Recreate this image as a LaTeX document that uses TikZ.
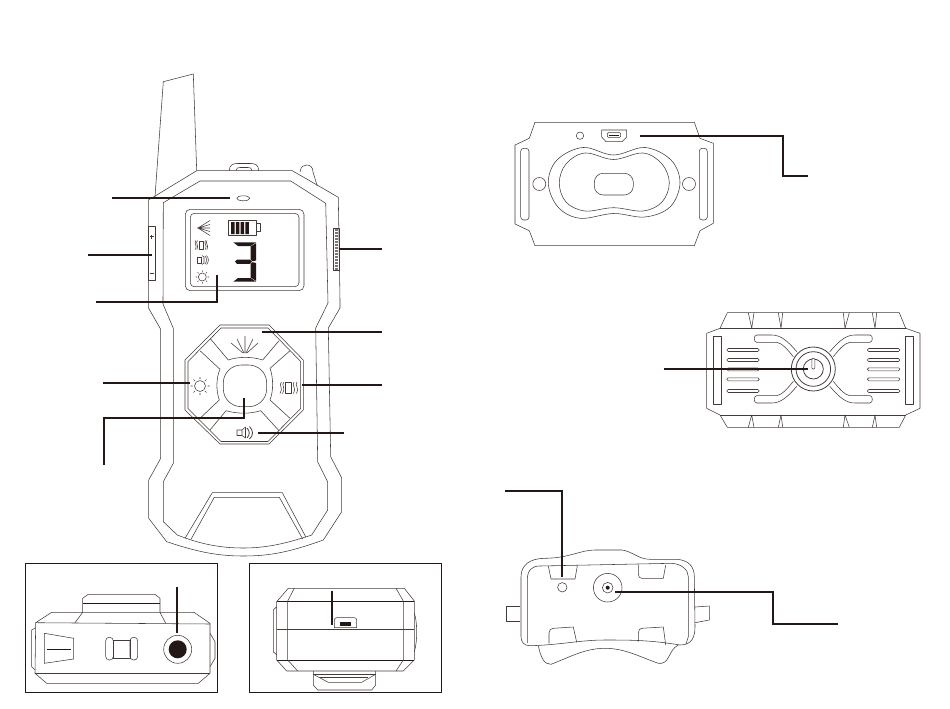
\documentclass[tikz,border=0pt]{standalone}
\usepackage{tikz}
\usetikzlibrary{calc}
\definecolor{inkline}{HTML}{231815}
\tikzset{
  part/.style={draw=inkline!85,line width=0.55pt,line join=round},
  boldpart/.style={draw=inkline,line width=1pt},
  leader/.style={draw=inkline,line width=1.7pt,line join=miter},
  frame/.style={draw=inkline,line width=1pt},
  solid part/.style={fill=inkline,draw=none}
}
\begin{document}
\begin{tikzpicture}[x=1pt,y=-1pt]
\useasboundingbox (0,0) rectangle (950,709);
% handset front
\draw[part] (155,196.7) -- (163.3,81.7) -- (193.3,74) -- (196.7,170.7);
\draw[part] (148.3,200) -- (154,196.7) -- (196.7,170.7) -- (292.3,170.7) -- (338.3,197.3) -- (340,300) -- (340,308) -- (328.3,328) -- (330.7,456.7) -- (341.7,478) -- (341.7,511.7) -- (323.3,540) .. controls (290,552) and (270,556) .. (243.3,556) .. controls (215,556) and (195,551) .. (166.7,541.7) -- (148.7,518.3) -- (148.7,480) -- (160.7,458.3) -- (160.7,329.3) -- (148.7,308.3) -- cycle;
\draw[part] (163.3,202.7) -- (200,181) -- (290.7,181) -- (325.7,203.3) -- (328,303) -- (315.7,328) -- (317.7,462) -- (327.7,482) -- (327.7,510) -- (311.7,535) .. controls (285,544) and (265,548) .. (243.3,548) .. controls (220,548) and (200,544) .. (177.3,535) -- (163.3,521.7) -- (163.3,481.7) -- (173.3,463.3) -- (173.3,328.3) -- (163,304) -- cycle;
\draw[part] (185,538.3) -- (212.3,492.7) -- (282.3,492.7) -- (306,537.3);
\draw[part] (191,539.3) -- (214.3,497.3) -- (279.3,497.3) -- (302.7,539);
\draw[part] (229.3,170.7) .. controls (229.3,165) and (233,163.5) .. (237,163.5) -- (251,163.5) .. controls (255,163.5) and (258.7,165) .. (258.7,170.7);
\draw[part] (236,170.7) .. controls (236,168) and (238,167.5) .. (240,167.5) -- (248,167.5) .. controls (250,167.5) and (252,168) .. (252,170.7);
\draw[part] (300,171.7) .. controls (301,166) and (304,165) .. (306.7,165) .. controls (310,165) and (313,167) .. (313,172) -- (317.3,186);
\draw[part] (243.3,198.3) ellipse (6.5 and 2.5);
% side keys
\draw[part] (148.3,226) rectangle (155.7,280.7);
\draw[part] (149.5,236.7) -- (154,236.7) (151.7,234.5) -- (151.7,239);
\draw[part] (149.5,273) -- (154,273);
\draw[part] (333.3,228.3) rectangle (339.3,270.7);
\draw[part,draw=inkline!60,dash pattern=on 1.5pt off 1.5pt,line width=3pt] (336.3,229) -- (336.3,270);
% display
\draw[part,rounded corners=5pt] (185.3,209.3) rectangle (304,290.7);
\draw[part,rounded corners=4pt] (190.3,213.3) rectangle (299,286.7);
\draw[part] (210,220.5) -- (198,228) -- (210,235.5) (197,228) -- (210,228) (198,228) -- (210,224.5) (198,228) -- (210,231.5);
\draw[part,line width=0.8pt] (228.3,220) rectangle (256.7,235.7);
\draw[part] (256.7,223.3) rectangle (260,231.7);
\fill[solid part] (231,222) rectangle (234.5,234) (235.8,222) rectangle (239.3,234) (240.6,222) rectangle (244.1,234) (245.4,222) rectangle (248.9,234);
% digit
\fill[solid part] (233.3,242.3) -- (256.2,242.3) -- (250.5,246) -- (238,246) -- cycle;
\fill[solid part] (256.2,243) -- (256.2,260.5) -- (252.5,261.2) -- (250.5,259.5) -- (250.5,246.5) -- cycle;
\fill[solid part] (237,259.5) -- (250,259.5) -- (252,261.7) -- (250,263.8) -- (237,263.8) -- (235,261.7) -- cycle;
\fill[solid part] (256.2,263) -- (256.2,281) -- (250.5,277.5) -- (250.5,264) -- (252.5,262.2) -- cycle;
\fill[solid part] (233.3,281.7) -- (256.2,281.7) -- (250.5,278) -- (238,278) -- cycle;
% display icons
\draw[part,line width=0.8pt] (199.5,241) rectangle (203.5,249);
\draw[part] (197.5,240.5) .. controls (195,243) and (199,245) .. (197,249.5) (196,240.5) .. controls (193.5,243) and (197.5,245) .. (195.5,249.5);
\draw[part] (205.5,240.5) .. controls (203.5,243) and (207.5,245) .. (205.5,249.5) (207,240.5) .. controls (205,243) and (209,245) .. (207,249.5);
\draw[part,line width=0.8pt] (197.5,257) rectangle (201,263);
\draw[part] (202,255.5) -- (204,257) -- (204,263) -- (202,264.5) (205,256) .. controls (207,258) and (207,262) .. (205,264) (206.5,255.5) .. controls (209,258) and (209,262) .. (206.5,264.5);
\draw[part] (202.3,277) circle (4);
\draw[part] (202.3,270.3) -- (202.3,271.8) (202.3,282.2) -- (202.3,283.7) (195.6,277) -- (197.1,277) (207.5,277) -- (209,277) (197.6,272.3) -- (198.6,273.3) (206,280.7) -- (207,281.7) (197.6,281.7) -- (198.6,280.7) (206,273.3) -- (207,272.3);
% keypad
\draw[part] (220,325) -- (269,325) -- (303.3,360) -- (303.3,410) -- (269,444) -- (220,444) -- (185,410) -- (185,360) -- cycle;
\draw[part] (221,328) -- (268,328) -- (300.7,361.5) -- (300.7,408.5) -- (268,441.5) -- (221,441.5) -- (188,408.5) -- (188,361.5) -- cycle;
\draw[part] (210,338.3) -- (228.3,360) .. controls (238,356.5) and (252,356.5) .. (262.7,360) -- (279,340.7);
\draw[part] (200,350.7) -- (220,369.3) .. controls (216,378) and (216,391) .. (219.3,400) -- (200,418.3);
\draw[part] (290,350.7) -- (270,368.3) .. controls (273.5,378) and (273.5,391) .. (270,400) -- (290,418.3);
\draw[part] (210,430) -- (226,410.7) .. controls (238,414) and (250,414) .. (260.7,410.7) -- (279,430.7);
\draw[part,rounded corners=18pt] (223.3,365) rectangle (266.7,406.7);
% keypad icons
\draw[part] (245,336) -- (245,353) (237,339) -- (244,353) (253,339) -- (246,353) (231,343) -- (243,353) (258,343) -- (247,353);
\draw[part] (200,386) circle (5.5);
\draw[part] (200,377) -- (200,379) (200,393) -- (200,395) (190.5,386) -- (192.5,386) (207.5,386) -- (209.5,386) (193.5,379.5) -- (195,381) (205,391) -- (206.5,392.5) (193.5,392.5) -- (195,391) (205,381) -- (206.5,379.5);
\draw[part,line width=0.8pt] (285.7,382.3) rectangle (291.7,393.3);
\draw[part] (281.5,382) .. controls (278,385) and (284,388) .. (280,393.5) (284,382) .. controls (280.5,385) and (286.5,388) .. (282.5,393.5);
\draw[part] (294,382) .. controls (291,385) and (297,388) .. (293.5,393.5) (297,382) .. controls (294,385) and (300,388) .. (296.5,393.5);
\draw[part] (242,430) -- (237,430) -- (237,435.5) -- (242,435.5) -- cycle (242,430) -- (245.5,427) -- (245.5,438) -- (242,435.5);
\draw[part,line width=0.8pt] (247,428) .. controls (250,431) and (250,435) .. (247,438) (249.5,426.5) .. controls (253.5,430) and (253.5,436) .. (249.5,439);
% side view panel left
\draw[frame] (25,563.3) rectangle (217.3,692.3);
\draw[part] (35.7,622.7) -- (51.7,612.3) -- (194,612.3) -- (210,623.3) -- (210,673.3) -- (198.3,683.3) -- (46.7,683.3) -- (35,673.3) -- cycle;
\draw[part] (35.7,622.7) -- (210,624);
\draw[part] (35,673.3) -- (210,673.3);
\draw[part] (75,622.7) -- (82.7,612.3) -- (82.7,598.3) -- (88.3,594.3) -- (155,594.3) -- (160,598.3) -- (160,612.3) -- (165.7,623.3);
\draw[boldpart] (82.7,603.3) -- (160,603.3);
\draw[part] (35.7,627.7) -- (31.7,630) -- (31.7,666.7) -- (35,670);
\draw[part] (210,633.3) -- (215,641.7) -- (215,658.3) -- (210,666.7);
\draw[part] (44.3,633.3) -- (73.7,638.3) -- (73.7,659) -- (44.3,663.3) -- cycle;
\draw[boldpart,line width=0.7pt] (47,649.3) -- (71,649.3);
\draw[part,line width=0.8pt] (113.3,640.7) rectangle (130,658.3);
\draw[part,rounded corners=3.5pt] (105.7,637.3) rectangle (113.3,660);
\draw[part,rounded corners=3.5pt] (130,637.3) rectangle (137.7,660);
\draw[part] (177.7,649.3) circle (14);
\fill[solid part] (177.7,649.3) circle (9);
% side view panel right
\draw[frame] (249.3,563.3) rectangle (441.7,692.3);
\draw[part] (276.7,601.7) -- (288.3,588.3) -- (404.3,588.3) -- (414.3,601) -- (414.3,660) -- (403.3,671) -- (286.7,671) -- (276.7,660) -- cycle;
\draw[boldpart,line width=0.7pt] (276.7,601.7) -- (414.3,601.7) (276.7,660) -- (414.3,660);
\draw[part] (276.7,629.3) -- (414.3,629.3);
\draw[part] (294.3,588.3) -- (287.7,601) -- (287.7,660) -- (297.7,671);
\draw[part] (396,588.3) -- (403.3,601) -- (403.3,660) -- (396,671);
\draw[part] (276.7,606.7) -- (273.3,610) -- (273.3,651.7) -- (276.7,655);
\draw[part] (414.3,613.3) .. controls (417,620) and (418,640) .. (414.3,651.7);
\draw[part] (313.3,671) -- (313.3,685) -- (317.7,690) -- (371.7,690) -- (375.7,685) -- (375.7,671);
\draw[part] (313.3,674.3) -- (375.7,674.3);
\draw[part] (313.3,674.3) -- (328.3,682.3) -- (361.7,682.3) -- (375.7,674.3);
\draw[part] (320,677.7) -- (368.3,677.7);
\draw[part] (334.3,627.7) -- (334.3,620) .. controls (334.3,618.5) and (335.5,617.7) .. (337,617.7) -- (354,617.7) .. controls (355.5,617.7) and (356.7,618.5) .. (356.7,620) -- (356.7,627.7) -- cycle;
\fill[solid part] (340,622.3) rectangle (351,626);
% collar back
\draw[part] (535,122.3) -- (694.3,122.3) -- (700,138.3) -- (713.3,143.3) -- (713.3,223.3) -- (700,230.7) -- (694.3,245.7) -- (535,245.7) -- (529.3,230.7) -- (515,224) -- (515,145) -- (529.3,138.3) -- cycle;
\draw[part,rounded corners=3pt] (520.7,148.3) rectangle (529,220);
\draw[part,rounded corners=3pt] (699.3,148.3) rectangle (707.3,220);
\draw[part] (539.3,184) circle (6.5);
\draw[part] (689,184) circle (6.5);
\draw[part] (580,135.7) circle (3.7);
\draw[part] (601.7,130) -- (626.7,130) -- (626.7,137) -- (622,141.7) -- (606,141.7) -- (601.7,137) -- cycle;
\draw[part,rounded corners=1pt] (607.3,132.7) rectangle (620.7,137.3);
\fill[solid part] (609,134.5) rectangle (619,136.2);
\draw[part] plot[smooth cycle,tension=0.6] coordinates {(548.3,183) (557,160) (583,147.5) (613.5,155) (645,147.5) (671,160) (680,183) (670,207) (645,217) (613.5,213.5) (580,218.3) (558,207)};
\draw[part] plot[smooth cycle,tension=0.6] coordinates {(559.3,183) (566,164) (585,153) (613.5,159.5) (643,153) (662,164) (669.3,183) (662,202) (643,211) (613.5,207.7) (585,211) (566,202)};
\draw[part,rounded corners=9pt] (594.3,173.3) rectangle (633.3,195);
% collar top
\draw[part] (706.7,333.3) -- (720,328.3) -- (727.3,312.7) -- (899.3,312.7) -- (905.7,328.3) -- (920,333.3) -- (920,408.3) -- (905.7,415) -- (899.3,427.3) -- (727.3,427.3) -- (720,415) -- (706.7,408.3) -- cycle;
\draw[part] (720,328.3) -- (905.7,328.3);
\draw[part] (720,415) -- (905.7,415);
\draw[part] (748.3,312.7) -- (751.7,328.3) -- (754,312.7);
\draw[part] (778.3,312.7) -- (781,328.3) -- (782.7,312.7);
\draw[part] (843.3,312.7) -- (845,328.3) -- (849.3,312.7);
\draw[part] (872.3,312.7) -- (875,328.3) -- (876.7,312.7);
\draw[part] (748.3,427.3) -- (751.7,415) -- (754,427.3);
\draw[part] (778.3,427.3) -- (781,415) -- (782.7,427.3);
\draw[part] (843.3,427.3) -- (845,415) -- (849.3,427.3);
\draw[part] (872.3,427.3) -- (875,415) -- (876.7,427.3);
\draw[part,line width=0.9pt] (713.3,336) rectangle (721.7,404.3);
\draw[part,line width=0.9pt] (905,336) rectangle (913.3,404.3);
\draw[part,rounded corners=1.5pt] (726.7,348.5) rectangle (759.3,351.5);
\draw[part,rounded corners=1.5pt] (726.7,358.5) rectangle (759.3,361.5);
\draw[part,rounded corners=1.5pt] (726.7,367.8) rectangle (759.3,370.8);
\draw[part,rounded corners=1.5pt] (726.7,377.8) rectangle (759.3,380.8);
\draw[part,rounded corners=1.5pt] (726.7,389.5) rectangle (759.3,392.5);
\draw[part,rounded corners=1.5pt] (867.3,348.5) rectangle (900,351.5);
\draw[part,rounded corners=1.5pt] (867.3,358.5) rectangle (900,361.5);
\draw[part,rounded corners=1.5pt] (867.3,367.8) rectangle (900,370.8);
\draw[part,rounded corners=1.5pt] (867.3,377.8) rectangle (900,380.8);
\draw[part,rounded corners=1.5pt] (867.3,389.5) rectangle (900,392.5);
\draw[part] (796.7,351.7) .. controls (787,340) and (780,335) .. (771.7,335) -- (756.7,335) .. controls (753.5,335) and (753.5,342.3) .. (756.7,342.3) -- (776.7,342.3) .. controls (782,343) and (788,350) .. (793.3,356.7);
\draw[part] (829.9,351.7) .. controls (839.6,340) and (846.6,335) .. (854.9,335) -- (869.9,335) .. controls (873.1,335) and (873.1,342.3) .. (869.9,342.3) -- (849.9,342.3) .. controls (844.6,343) and (838.6,350) .. (833.3,356.7);
\draw[part] (796.7,386.3) .. controls (787,398) and (780,403) .. (771.7,403) -- (756.7,403) .. controls (753.5,403) and (753.5,395.7) .. (756.7,395.7) -- (776.7,395.7) .. controls (782,395) and (788,388) .. (793.3,381.3);
\draw[part] (829.9,386.3) .. controls (839.6,398) and (846.6,403) .. (854.9,403) -- (869.9,403) .. controls (873.1,403) and (873.1,395.7) .. (869.9,395.7) -- (849.9,395.7) .. controls (844.6,395) and (838.6,388) .. (833.3,381.3);
\draw[part,line width=0.8pt] (813.3,369) circle (22);
\draw[part,line width=0.8pt] (813.3,369) circle (17.3);
\draw[part,line width=0.8pt] (813.3,369) circle (10);
\draw[part,fill=white,rounded corners=1pt] (811.8,358.3) rectangle (814.8,369);
% collar front
\draw[part] (521,576.7) .. controls (521,565) and (530,558.3) .. (545,558.3) .. controls (570,558) and (580,550) .. (595,550) -- (621.7,550) .. controls (632,551) and (638,559.3) .. (650,559.3) -- (676.7,559.3) .. controls (688,560) and (694.3,566) .. (694.3,576.7) -- (695,626.7) .. controls (695,637) and (692,645) .. (680,645) .. controls (650,640) and (630,640) .. (605,640) .. controls (580,640) and (560,645) .. (530,645.7) .. controls (524,645.7) and (521,642) .. (521,636.7) -- cycle;
\draw[part] (527.3,643) -- (527.3,580) .. controls (527.3,570) and (532,566) .. (540,566) -- (671.7,563.3) .. controls (682,564) and (688.3,570) .. (688.3,576.7) -- (688.3,636.7) -- (686,644);
\draw[part] (548.3,566) -- (551,579) -- (575,579) -- (577.3,566);
\draw[part] (638.3,565) -- (638.3,574) .. controls (638.3,577) and (640,578.3) .. (641.7,578.3) -- (663.3,578.3) -- (665.7,565);
\draw[part] (549,643.3) -- (549,633) .. controls (549,630) and (551,628.3) .. (553.3,628.3) -- (573.3,627) -- (576.7,642.3);
\draw[part] (638.3,641.7) -- (638.3,633) .. controls (638.3,630) and (640,628.3) .. (641.7,628.3) -- (663.3,627) -- (665.7,645);
\draw[part] (520.3,606) -- (506.7,606) -- (506.7,621.7) -- (520.3,621.7);
\draw[part] (695,607) -- (709.3,606) -- (709.3,620) -- (695,622.7);
\draw[part] (538.3,645.7) .. controls (541,658) and (544,664.3) .. (551,664.3) .. controls (570,657) and (585,648.3) .. (605,648.3) .. controls (625,648.3) and (640,657) .. (658.3,663.3) .. controls (670,665) and (668,650) .. (678.3,645);
\draw[part] (562.3,587.3) circle (4.7);
\draw[part] (607.7,587.7) circle (14.3);
\draw[part] (607.7,587.7) circle (5.3);
\fill[solid part] (607.7,587.7) circle (2);
% leader ends
\coordinate (ledEnd) at (111.7,198.3);
\coordinate (ledTip) at (230,198.3);
\coordinate (keyEnd) at (88.3,255);
\coordinate (keyTip) at (151.7,255);
\coordinate (lcdEnd) at (96,301.7);
\coordinate (lcdBend) at (217.3,301.7);
\coordinate (lcdTip) at (217.3,275);
\coordinate (grillEnd) at (381.7,248.7);
\coordinate (grillTip) at (339.3,248.7);
\coordinate (flashEnd) at (381.7,331.7);
\coordinate (flashTip) at (261.7,331.7);
\coordinate (sunEnd) at (103.3,382.7);
\coordinate (sunTip) at (190,382.7);
\coordinate (vibEnd) at (381.7,385);
\coordinate (vibTip) at (302.3,385);
\coordinate (padEnd) at (104,465);
\coordinate (padBendA) at (104,418.3);
\coordinate (padBendB) at (244.3,418.3);
\coordinate (padTip) at (244.3,398.3);
\coordinate (spkEnd) at (344,432.7);
\coordinate (spkTip) at (257.7,432.7);
\coordinate (jackEnd) at (176.7,587.3);
\coordinate (jackTip) at (176.7,633.3);
\coordinate (usbEnd) at (331.7,590.7);
\coordinate (usbTip) at (331.7,625);
\coordinate (chgEnd) at (808.3,176);
\coordinate (chgBendA) at (782.7,176);
\coordinate (chgBendB) at (782.7,135.7);
\coordinate (chgTip) at (640,135.7);
\coordinate (powEnd) at (664.3,369);
\coordinate (powTip) at (808.3,369);
\coordinate (lampEnd) at (505,490.7);
\coordinate (lampBend) at (562.3,490.7);
\coordinate (lampTip) at (562.3,577.3);
\coordinate (probeEnd) at (838.3,624);
\coordinate (probeBendA) at (773.3,624);
\coordinate (probeBendB) at (773.3,592);
\coordinate (probeTip) at (615,592);
% leaders
\draw[leader] (ledEnd) -- (ledTip);
\draw[leader] (keyEnd) -- (keyTip);
\draw[leader] (lcdEnd) -- (lcdBend) -- (lcdTip);
\draw[leader] (grillEnd) -- (grillTip);
\draw[leader] (flashEnd) -- (flashTip);
\draw[leader] (sunEnd) -- (sunTip);
\draw[leader] (vibEnd) -- (vibTip);
\draw[leader] (padEnd) -- (padBendA) -- (padBendB) -- (padTip);
\draw[leader] (spkEnd) -- (spkTip);
\draw[leader] (jackEnd) -- (jackTip);
\draw[leader] (usbEnd) -- (usbTip);
\draw[leader] (chgEnd) -- (chgBendA) -- (chgBendB) -- (chgTip);
\draw[leader] (powEnd) -- (powTip);
\draw[leader] (lampEnd) -- (lampBend) -- (lampTip);
\draw[leader] (probeEnd) -- (probeBendA) -- (probeBendB) -- (probeTip);
\end{tikzpicture}
\end{document}
